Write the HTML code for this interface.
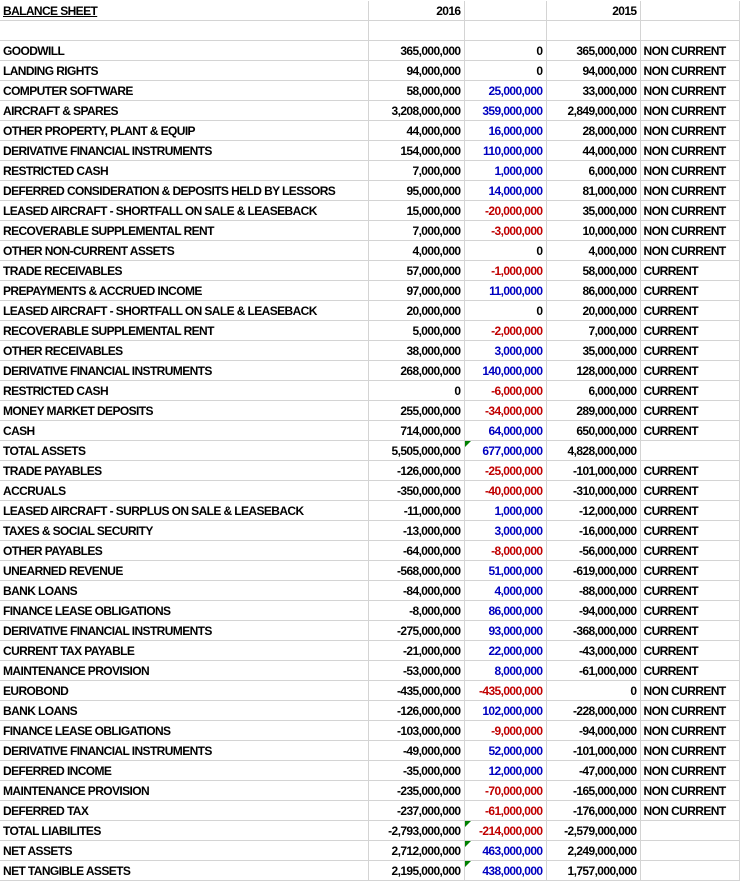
<!DOCTYPE html>
<html><head><meta charset="utf-8"><style>
body{margin:0;padding-top:1px;background:#fff;width:740px;height:881px;overflow:hidden}
table{border-collapse:collapse;table-layout:fixed;font-family:"Liberation Sans",Arial,sans-serif;font-weight:bold;font-size:12px;letter-spacing:-0.6px;color:#000}
td{height:18px;padding:1px 3px 0 3px;border-right:1px solid #d4d4d4;border-bottom:1px solid #d4d4d4;white-space:nowrap;overflow:hidden;position:relative;line-height:18px}
td.n{text-align:right}
.b{color:#0000c0}.r{color:#c00000}
.t::before{content:"";position:absolute;left:0;top:0;border-top:6px solid #008000;border-right:6px solid transparent}
</style></head><body>
<table>
<colgroup><col style="width:368px"><col style="width:96px"><col style="width:82px"><col style="width:94px"><col style="width:99px"></colgroup>
<tr><td style="text-decoration:underline">BALANCE SHEET</td><td class="n">2016</td><td></td><td class="n">2015</td><td></td></tr>
<tr><td></td><td></td><td></td><td></td><td></td></tr>
<tr><td>GOODWILL</td><td class="n">365,000,000</td><td class="n">0</td><td class="n">365,000,000</td><td>NON CURRENT</td></tr>
<tr><td>LANDING RIGHTS</td><td class="n">94,000,000</td><td class="n">0</td><td class="n">94,000,000</td><td>NON CURRENT</td></tr>
<tr><td>COMPUTER SOFTWARE</td><td class="n">58,000,000</td><td class="n b">25,000,000</td><td class="n">33,000,000</td><td>NON CURRENT</td></tr>
<tr><td>AIRCRAFT &amp; SPARES</td><td class="n">3,208,000,000</td><td class="n b">359,000,000</td><td class="n">2,849,000,000</td><td>NON CURRENT</td></tr>
<tr><td>OTHER PROPERTY, PLANT &amp; EQUIP</td><td class="n">44,000,000</td><td class="n b">16,000,000</td><td class="n">28,000,000</td><td>NON CURRENT</td></tr>
<tr><td>DERIVATIVE FINANCIAL INSTRUMENTS</td><td class="n">154,000,000</td><td class="n b">110,000,000</td><td class="n">44,000,000</td><td>NON CURRENT</td></tr>
<tr><td>RESTRICTED CASH</td><td class="n">7,000,000</td><td class="n b">1,000,000</td><td class="n">6,000,000</td><td>NON CURRENT</td></tr>
<tr><td>DEFERRED CONSIDERATION &amp; DEPOSITS HELD BY LESSORS</td><td class="n">95,000,000</td><td class="n b">14,000,000</td><td class="n">81,000,000</td><td>NON CURRENT</td></tr>
<tr><td>LEASED AIRCRAFT - SHORTFALL ON SALE &amp; LEASEBACK</td><td class="n">15,000,000</td><td class="n r">-20,000,000</td><td class="n">35,000,000</td><td>NON CURRENT</td></tr>
<tr><td>RECOVERABLE SUPPLEMENTAL RENT</td><td class="n">7,000,000</td><td class="n r">-3,000,000</td><td class="n">10,000,000</td><td>NON CURRENT</td></tr>
<tr><td>OTHER NON-CURRENT ASSETS</td><td class="n">4,000,000</td><td class="n">0</td><td class="n">4,000,000</td><td>NON CURRENT</td></tr>
<tr><td>TRADE RECEIVABLES</td><td class="n">57,000,000</td><td class="n r">-1,000,000</td><td class="n">58,000,000</td><td>CURRENT</td></tr>
<tr><td>PREPAYMENTS &amp; ACCRUED INCOME</td><td class="n">97,000,000</td><td class="n b">11,000,000</td><td class="n">86,000,000</td><td>CURRENT</td></tr>
<tr><td>LEASED AIRCRAFT - SHORTFALL ON SALE &amp; LEASEBACK</td><td class="n">20,000,000</td><td class="n">0</td><td class="n">20,000,000</td><td>CURRENT</td></tr>
<tr><td>RECOVERABLE SUPPLEMENTAL RENT</td><td class="n">5,000,000</td><td class="n r">-2,000,000</td><td class="n">7,000,000</td><td>CURRENT</td></tr>
<tr><td>OTHER RECEIVABLES</td><td class="n">38,000,000</td><td class="n b">3,000,000</td><td class="n">35,000,000</td><td>CURRENT</td></tr>
<tr><td>DERIVATIVE FINANCIAL INSTRUMENTS</td><td class="n">268,000,000</td><td class="n b">140,000,000</td><td class="n">128,000,000</td><td>CURRENT</td></tr>
<tr><td>RESTRICTED CASH</td><td class="n">0</td><td class="n r">-6,000,000</td><td class="n">6,000,000</td><td>CURRENT</td></tr>
<tr><td>MONEY MARKET DEPOSITS</td><td class="n">255,000,000</td><td class="n r">-34,000,000</td><td class="n">289,000,000</td><td>CURRENT</td></tr>
<tr><td>CASH</td><td class="n">714,000,000</td><td class="n b">64,000,000</td><td class="n">650,000,000</td><td>CURRENT</td></tr>
<tr><td>TOTAL ASSETS</td><td class="n">5,505,000,000</td><td class="n b t">677,000,000</td><td class="n">4,828,000,000</td><td></td></tr>
<tr><td>TRADE PAYABLES</td><td class="n">-126,000,000</td><td class="n r">-25,000,000</td><td class="n">-101,000,000</td><td>CURRENT</td></tr>
<tr><td>ACCRUALS</td><td class="n">-350,000,000</td><td class="n r">-40,000,000</td><td class="n">-310,000,000</td><td>CURRENT</td></tr>
<tr><td>LEASED AIRCRAFT - SURPLUS ON SALE &amp; LEASEBACK</td><td class="n">-11,000,000</td><td class="n b">1,000,000</td><td class="n">-12,000,000</td><td>CURRENT</td></tr>
<tr><td>TAXES &amp; SOCIAL SECURITY</td><td class="n">-13,000,000</td><td class="n b">3,000,000</td><td class="n">-16,000,000</td><td>CURRENT</td></tr>
<tr><td>OTHER PAYABLES</td><td class="n">-64,000,000</td><td class="n r">-8,000,000</td><td class="n">-56,000,000</td><td>CURRENT</td></tr>
<tr><td>UNEARNED REVENUE</td><td class="n">-568,000,000</td><td class="n b">51,000,000</td><td class="n">-619,000,000</td><td>CURRENT</td></tr>
<tr><td>BANK LOANS</td><td class="n">-84,000,000</td><td class="n b">4,000,000</td><td class="n">-88,000,000</td><td>CURRENT</td></tr>
<tr><td>FINANCE LEASE OBLIGATIONS</td><td class="n">-8,000,000</td><td class="n b">86,000,000</td><td class="n">-94,000,000</td><td>CURRENT</td></tr>
<tr><td>DERIVATIVE FINANCIAL INSTRUMENTS</td><td class="n">-275,000,000</td><td class="n b">93,000,000</td><td class="n">-368,000,000</td><td>CURRENT</td></tr>
<tr><td>CURRENT TAX PAYABLE</td><td class="n">-21,000,000</td><td class="n b">22,000,000</td><td class="n">-43,000,000</td><td>CURRENT</td></tr>
<tr><td>MAINTENANCE PROVISION</td><td class="n">-53,000,000</td><td class="n b">8,000,000</td><td class="n">-61,000,000</td><td>CURRENT</td></tr>
<tr><td>EUROBOND</td><td class="n">-435,000,000</td><td class="n r">-435,000,000</td><td class="n">0</td><td>NON CURRENT</td></tr>
<tr><td>BANK LOANS</td><td class="n">-126,000,000</td><td class="n b">102,000,000</td><td class="n">-228,000,000</td><td>NON CURRENT</td></tr>
<tr><td>FINANCE LEASE OBLIGATIONS</td><td class="n">-103,000,000</td><td class="n r">-9,000,000</td><td class="n">-94,000,000</td><td>NON CURRENT</td></tr>
<tr><td>DERIVATIVE FINANCIAL INSTRUMENTS</td><td class="n">-49,000,000</td><td class="n b">52,000,000</td><td class="n">-101,000,000</td><td>NON CURRENT</td></tr>
<tr><td>DEFERRED INCOME</td><td class="n">-35,000,000</td><td class="n b">12,000,000</td><td class="n">-47,000,000</td><td>NON CURRENT</td></tr>
<tr><td>MAINTENANCE PROVISION</td><td class="n">-235,000,000</td><td class="n r">-70,000,000</td><td class="n">-165,000,000</td><td>NON CURRENT</td></tr>
<tr><td>DEFERRED TAX</td><td class="n">-237,000,000</td><td class="n r">-61,000,000</td><td class="n">-176,000,000</td><td>NON CURRENT</td></tr>
<tr><td>TOTAL LIABILITES</td><td class="n">-2,793,000,000</td><td class="n r t">-214,000,000</td><td class="n">-2,579,000,000</td><td></td></tr>
<tr><td>NET ASSETS</td><td class="n">2,712,000,000</td><td class="n b t">463,000,000</td><td class="n">2,249,000,000</td><td></td></tr>
<tr><td>NET TANGIBLE ASSETS</td><td class="n">2,195,000,000</td><td class="n b t">438,000,000</td><td class="n">1,757,000,000</td><td></td></tr>
</table>
</body></html>
